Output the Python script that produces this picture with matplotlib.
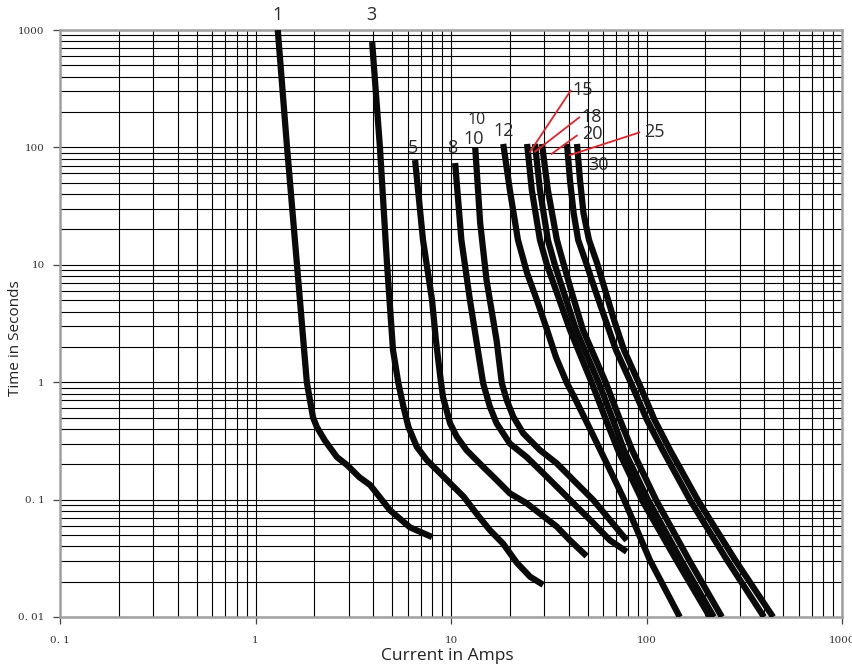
import matplotlib
matplotlib.use("Agg")
import matplotlib.pyplot as plt
from matplotlib.ticker import FixedLocator, FixedFormatter, NullFormatter

# fuse curves: current (A) vs time (s)
amps_1 = [1.30, 1.45, 1.63, 1.83, 1.90, 1.97, 2.06, 2.26, 2.61, 2.94, 3.40, 3.86, 4.88, 6.17, 8.0]
secs_1 = [1000, 100, 10, 1.0, 0.70, 0.50, 0.415, 0.32, 0.23, 0.197, 0.155, 0.133, 0.081, 0.058, 0.048]

amps_3 = [3.95, 4.33, 4.71, 5.05, 5.38, 5.71, 6.05, 6.68, 7.52, 8.79, 10.3, 11.6, 13.5, 15.8, 18.5, 21.7, 25.4, 29.6]
secs_3 = [790, 100, 10, 1.88, 0.98, 0.62, 0.418, 0.282, 0.217, 0.168, 0.129, 0.106, 0.076, 0.055, 0.042, 0.029, 0.022, 0.0188]

amps_5 = [6.55, 7.19, 8.0, 8.37, 8.79, 9.1, 9.89, 10.7, 12.0, 14.6, 17.1, 20.0, 24.4, 28.5, 34.7, 40.6, 49.4]
secs_5 = [78, 16.3, 5.0, 2.29, 1.15, 0.748, 0.447, 0.344, 0.264, 0.19, 0.147, 0.113, 0.093, 0.076, 0.059, 0.045, 0.033]

amps_8 = [10.5, 11.3, 12.5, 13.8, 14.6, 15.8, 17.1, 20.0, 24.4, 29.6, 36.1, 44.0, 53.5, 65.0, 79.2]
secs_8 = [73.6, 16.3, 5.0, 1.77, 0.98, 0.62, 0.447, 0.30, 0.23, 0.168, 0.121, 0.087, 0.063, 0.045, 0.036]

amps_10 = [13.3, 14.1, 15.2, 17.1, 18.2, 19.3, 20.8, 23.4, 28.5, 34.7, 44.0, 53.5, 65.0, 79.2]
secs_10 = [100, 22.7, 7.4, 2.28, 0.98, 0.70, 0.51, 0.367, 0.264, 0.204, 0.137, 0.099, 0.067, 0.045]

amps_12 = [18.5, 20.0, 22.0, 24.5, 27.5, 31.0, 34.4, 39.2, 43.0, 51.4, 65.0, 75.8, 104, 148]
secs_12 = [107, 43.4, 16.3, 8.5, 5.0, 2.79, 1.64, 0.98, 0.73, 0.40, 0.179, 0.105, 0.0306, 0.01]

secs_band = [107, 43.4, 16.3, 9.95, 6.1, 2.79, 0.98, 0.476, 0.264, 0.099, 0.0306, 0.01]
amps_15 = [24.5, 25.9, 28.5, 31.0, 34.4, 40.6, 52.6, 62.1, 71.5, 94.8, 142, 211]
amps_18 = [26.9, 28.5, 31.3, 34.0, 37.4, 43.6, 57.1, 67.4, 76.7, 102, 150, 221]
amps_20 = [29.2, 31.3, 34.8, 37.8, 41.1, 47.3, 62.1, 73.3, 84.4, 112, 165, 243]

secs_pair = [107, 52.7, 27.6, 16.3, 10.4, 6.1, 3.39, 1.88, 0.98, 0.476, 0.264, 0.099, 0.0306, 0.01]
amps_25 = [39.2, 40.6, 42.4, 44.7, 49.1, 54.6, 61.7, 69.8, 83.4, 100.6, 121, 167, 258, 399]
amps_30 = [44.1, 45.7, 47.6, 50.8, 55.8, 61.4, 68.2, 76.7, 91.5, 110, 132, 183, 284, 444]

curves = [
    (amps_1, secs_1), (amps_3, secs_3), (amps_5, secs_5), (amps_8, secs_8),
    (amps_10, secs_10), (amps_12, secs_12), (amps_15, secs_band),
    (amps_18, secs_band), (amps_20, secs_band), (amps_25, secs_pair),
    (amps_30, secs_pair),
]

# curve labels
label_text = ["1", "3", "5", "8", "10", "10", "12", "15", "18", "20", "25", "30"]
label_x = [1.30, 3.90, 6.4, 10.1, 13.0, 13.6, 18.5, 47.3, 52.6, 52.6, 110, 56.5]
label_y = [1343, 1343, 99, 99, 118, 170, 138, 308, 181, 130, 135, 70.8]
label_size = [13, 13, 13, 13, 13, 11.5, 13, 13, 13, 13, 13, 13]

# red leader lines: (label end, curve end)
leader_x = [(40.9, 25.4), (45.3, 26.9), (44.0, 32.7), (91.8, 40.6)]
leader_y = [(304, 91.9), (180, 91.9), (126, 88), (134, 86)]

x_ticks = [0.1, 1, 10, 100, 1000]
x_tick_labels = ["0. 1", "1", "10", "100", "1000"]
y_ticks = [0.01, 0.1, 1, 10, 100, 1000]
y_tick_labels = ["0. 01", "0. 1", "1", "10", "100", "1000"]

fig = plt.figure(figsize=(8.52, 6.66), dpi=100)
ax = fig.add_axes([60 / 852, 1 - 617 / 666, 782 / 852, 587 / 666])
ax.set_xscale("log")
ax.set_yscale("log")
ax.set_xlim(0.1, 1000)
ax.set_ylim(0.01, 1000)

ax.grid(True, which="both", color="black", lw=0.8)
ax.set_axisbelow(True)
for s in ax.spines.values():
    s.set_color("#a0a0a0")
    s.set_linewidth(1.8)

ax.xaxis.set_major_locator(FixedLocator(x_ticks))
ax.xaxis.set_major_formatter(FixedFormatter(x_tick_labels))
ax.yaxis.set_major_locator(FixedLocator(y_ticks))
ax.yaxis.set_major_formatter(FixedFormatter(y_tick_labels))
ax.xaxis.set_minor_formatter(NullFormatter())
ax.yaxis.set_minor_formatter(NullFormatter())
ax.tick_params(which="minor", length=0)
ax.tick_params(which="major", length=5, width=0.9, color="#444",
               labelsize=7.5, labelcolor="#333", labelfontfamily="DejaVu Serif")
ax.tick_params(axis="x", pad=9)
ax.tick_params(axis="y", pad=6)

for xs, ys in curves:
    ax.plot(xs, ys, color="#0a0a0a", lw=4.5, solid_capstyle="butt",
            solid_joinstyle="round", zorder=3)

for (x0, x1), (y0, y1) in zip(leader_x, leader_y):
    ax.plot([x0, x1], [y0, y1], color="#e0242a", lw=1.3, zorder=4)

for t, x, y, fs in zip(label_text, label_x, label_y, label_size):
    ax.text(x, y, t, fontsize=fs, family="Open Sans", color="#2a2a2a",
            ha="center", va="center", clip_on=False, zorder=5)

fig.text(447 / 852, 1 - 656 / 666, "Current in Amps", fontsize=12.5,
         family="Open Sans", color="#222", ha="center", va="center")
fig.text(16 / 852, 1 - 338 / 666, "Time in Seconds", fontsize=11,
         family="Open Sans", color="#222", ha="center", va="center", rotation=90)

fig.savefig("out.png", dpi=100)
